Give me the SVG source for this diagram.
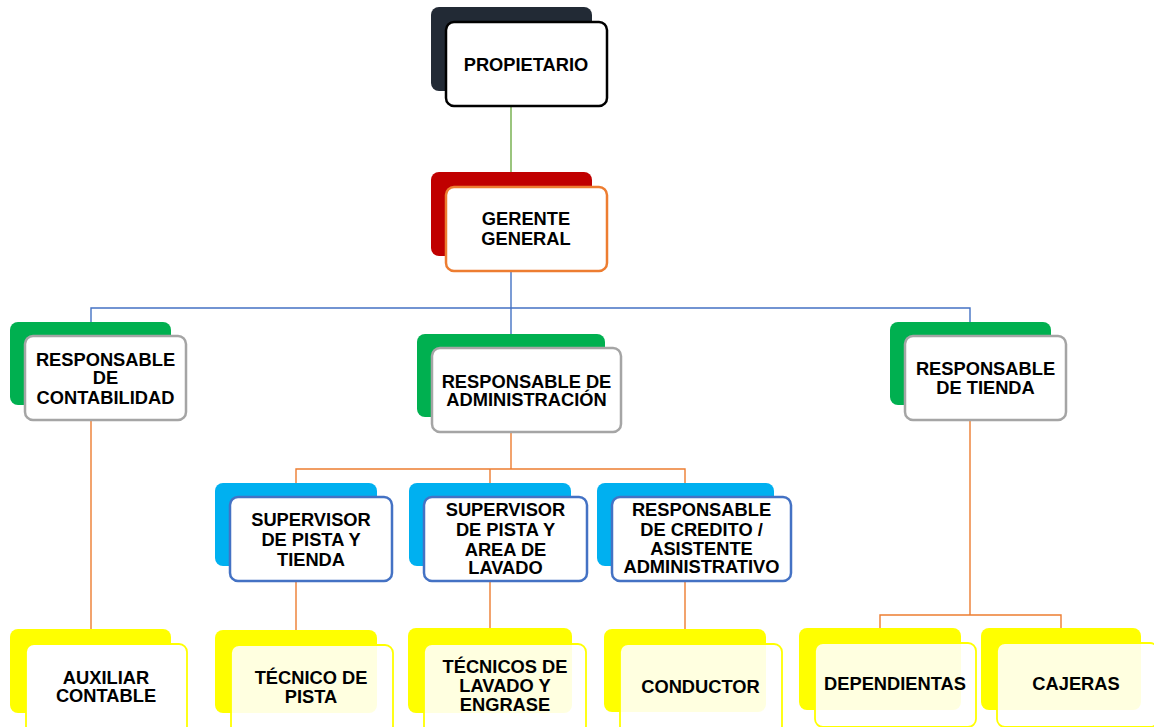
<svg xmlns="http://www.w3.org/2000/svg" width="1154" height="727" viewBox="0 0 1154 727">
<style>
.t{font-family:"Liberation Sans",Arial,sans-serif;font-weight:bold;font-size:18.3px;fill:#000;text-anchor:middle}
.dk{fill:#222a35}
.rd{fill:#c00000}
.gr{fill:#00b050}
.cy{fill:#00b0f0}
.yl{fill:#ffff00}
.f{fill:#fff;stroke-width:2.5}
.fk{stroke:#000}
.fo{stroke:#ed7d31}
.fg{stroke:#a5a5a5}
.fb{stroke:#4472c4}
.fy{stroke:#ffff00;stroke-width:1.8}
.ft{fill-opacity:0.88}
.c{fill:none;stroke-width:1.4}
</style>
<rect width="1154" height="727" fill="#fff"/>
<g id="connectors">
<path class="c" stroke="#70ad47" d="M511 106V187"/>
<path class="c" stroke="#4472c4" d="M511 271V348M91 322V308H970V322"/>
<path class="c" stroke="#ed7d31" d="M511 432V469M296 483V469H685V483M490 469V483"/>
<path class="c" stroke="#ed7d31" d="M91 420V630M296 581V630M490 581V630M685 581V630"/>
<path class="c" stroke="#ed7d31" d="M970 420V615M880 628V615H1061V628"/>
</g>
<g id="propietario">
<rect x="431" y="7" width="161" height="84" rx="8" class="dk"/>
<rect x="446" y="22" width="161" height="84" rx="8" class="f fk"/>
<text class="t" x="526" y="70.5">PROPIETARIO</text>
</g>
<g id="gerente">
<rect x="431" y="172" width="161" height="84" rx="8" class="rd"/>
<rect x="446" y="187" width="161" height="84" rx="8" class="f fo"/>
<text class="t" x="526" y="225">GERENTE</text>
<text class="t" x="526" y="245">GENERAL</text>
</g>
<g id="contabilidad">
<rect x="10" y="322" width="161" height="83" rx="8" class="gr"/>
<rect x="25" y="336" width="161" height="84" rx="8" class="f fg"/>
<text class="t" x="105.5" y="365.5">RESPONSABLE</text>
<text class="t" x="105.5" y="384">DE</text>
<text class="t" x="105.5" y="404">CONTABILIDAD</text>
</g>
<g id="administracion">
<rect x="417" y="334" width="188" height="83" rx="8" class="gr"/>
<rect x="432" y="348" width="189" height="84" rx="8" class="f fg"/>
<text class="t" x="526.5" y="388">RESPONSABLE DE</text>
<text class="t" x="526.5" y="406">ADMINISTRACIÓN</text>
</g>
<g id="tienda">
<rect x="890" y="322" width="161" height="83" rx="8" class="gr"/>
<rect x="905" y="336" width="161" height="84" rx="8" class="f fg"/>
<text class="t" x="985.5" y="375">RESPONSABLE</text>
<text class="t" x="985.5" y="394">DE TIENDA</text>
</g>
<g id="sup-tienda">
<rect x="215" y="483" width="162" height="83" rx="8" class="cy"/>
<rect x="230" y="497" width="162" height="84" rx="8" class="f fb"/>
<text class="t" x="311" y="526">SUPERVISOR</text>
<text class="t" x="311" y="546">DE PISTA Y</text>
<text class="t" x="311" y="566">TIENDA</text>
</g>
<g id="sup-lavado">
<rect x="409" y="483" width="162" height="83" rx="8" class="cy"/>
<rect x="424" y="497" width="163" height="84" rx="8" class="f fb"/>
<text class="t" x="505.5" y="516">SUPERVISOR</text>
<text class="t" x="505.5" y="536">DE PISTA Y</text>
<text class="t" x="505.5" y="556">AREA DE</text>
<text class="t" x="505.5" y="574">LAVADO</text>
</g>
<g id="credito">
<rect x="597" y="483" width="177" height="83" rx="8" class="cy"/>
<rect x="612" y="497" width="179" height="84" rx="8" class="f fb"/>
<text class="t" x="701.5" y="516">RESPONSABLE</text>
<text class="t" x="701.5" y="536">DE CREDITO /</text>
<text class="t" x="701.5" y="555">ASISTENTE</text>
<text class="t" x="701.5" y="573">ADMINISTRATIVO</text>
</g>
<g id="auxiliar">
<rect x="10" y="629" width="161" height="84" rx="8" class="yl"/>
<rect x="26" y="644" width="161" height="90" rx="8" class="f fy"/>
<text class="t" x="106" y="684">AUXILIAR</text>
<text class="t" x="106" y="702">CONTABLE</text>
</g>
<g id="tecnico-pista">
<rect x="215" y="630" width="162" height="83" rx="8" class="yl"/>
<rect x="231" y="645" width="162" height="90" rx="8" class="f fy ft"/>
<text class="t" x="311" y="684">TÉCNICO DE</text>
<text class="t" x="311" y="702.5">PISTA</text>
</g>
<g id="tecnicos-lavado">
<rect x="408" y="628" width="164" height="85" rx="8" class="yl"/>
<rect x="424" y="644" width="162" height="90" rx="8" class="f fy ft"/>
<text class="t" x="505" y="673">TÉCNICOS DE</text>
<text class="t" x="505" y="692">LAVADO Y</text>
<text class="t" x="505" y="710.5">ENGRASE</text>
</g>
<g id="conductor">
<rect x="604" y="629" width="162" height="83" rx="8" class="yl"/>
<rect x="620" y="644" width="162" height="90" rx="8" class="f fy ft"/>
<text class="t" x="700.5" y="693">CONDUCTOR</text>
</g>
<g id="dependientas">
<rect x="799" y="628" width="162" height="82" rx="8" class="yl"/>
<rect x="815" y="643" width="161" height="84" rx="8" class="f fy ft"/>
<text class="t" x="895" y="690">DEPENDIENTAS</text>
</g>
<g id="cajeras">
<rect x="981" y="628" width="160" height="82" rx="8" class="yl"/>
<rect x="997" y="643" width="161" height="84" rx="8" class="f fy ft"/>
<text class="t" x="1076" y="690">CAJERAS</text>
</g>
</svg>
